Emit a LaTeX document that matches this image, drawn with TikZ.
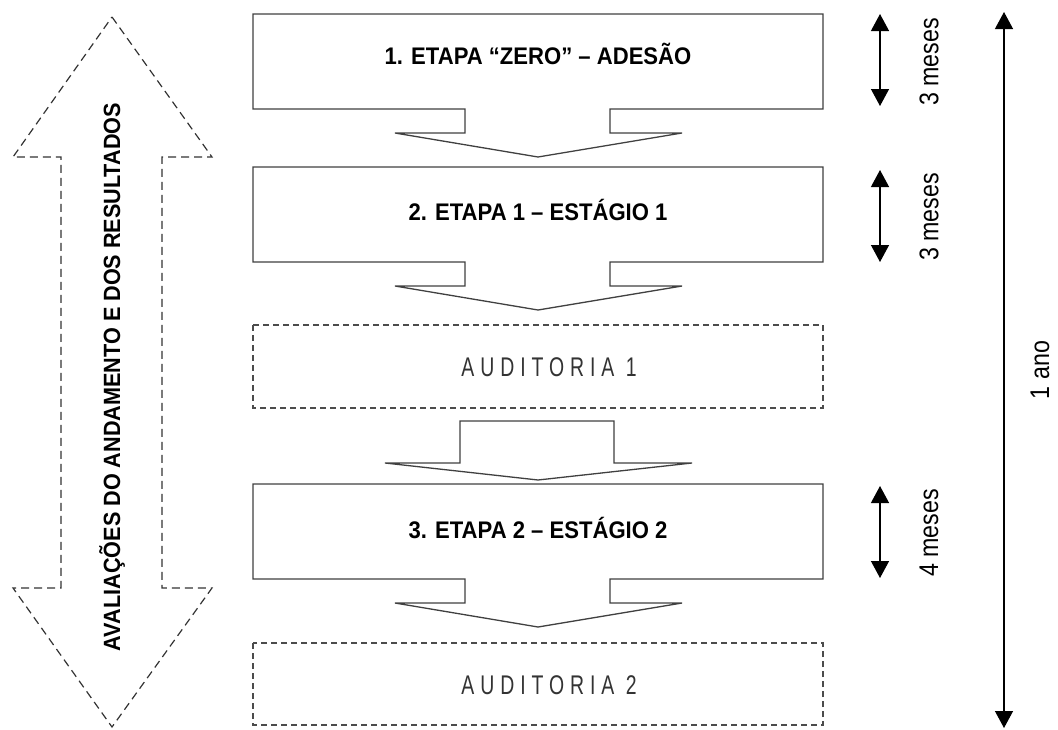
\documentclass[tikz,border=0pt]{standalone}
\usepackage{fontspec}
\setmainfont{Liberation Sans}
\newfontfamily\titlefont[FakeStretch=0.92]{Liberation Sans}
\newfontfamily\notefont[FakeStretch=0.86]{Liberation Sans}
\newfontfamily\auditfont[FakeStretch=0.72,LetterSpace=22]{Liberation Sans}
\usetikzlibrary{arrows.meta}

% outline of a stage box with its downward block arrow (top edge at #1)
\newcommand\stageoutline[1]{%
  \draw[stageline] (253,#1) -- (823,#1) -- (823,#1+95) -- (610,#1+95)
    -- (610,#1+119) -- (682,#1+119) -- (538,#1+143) -- (395,#1+119)
    -- (465,#1+119) -- (465,#1+95) -- (253,#1+95) -- cycle;}

\begin{document}
\begin{tikzpicture}[x=1pt,y=-1pt,
  stageline/.style={draw=black!75, line width=1.3pt, fill=white, line join=miter},
  auditbox/.style={draw=black!70, line width=1.2pt, dash pattern=on 6pt off 4pt},
  sidearrow/.style={draw=black!80, line width=1.2pt, dash pattern=on 8pt off 5pt},
  span/.style={line width=1.3pt,
    {Triangle[width=18pt,length=17pt]}-{Triangle[width=18pt,length=17pt]}},
  stagetext/.style={font=\titlefont\bfseries\fontsize{24}{27}\selectfont},
  audittext/.style={font=\auditfont\fontsize{27}{31}\selectfont, text=black!80},
  sidetext/.style={font=\titlefont\bfseries\fontsize{23.5}{27}\selectfont, rotate=90},
  durtext/.style={font=\notefont\fontsize{27}{30}\selectfont, rotate=90}]
\useasboundingbox (0,0) rectangle (1058,729);

% evaluation double arrow on the left
\draw[sidearrow] (112,17) -- (212,157) -- (162,157) -- (162,588) -- (212,588)
  -- (112,727) -- (13,588) -- (61,588) -- (61,157) -- (13,157) -- cycle;
\node[sidetext] (eval) at (112,377) {AVALIAÇÕES DO ANDAMENTO E DOS RESULTADOS};

% stages
\stageoutline{14}
\node[stagetext] (s1) at (538,54) {1. ETAPA “ZERO” – ADESÃO};
\stageoutline{167}
\node[stagetext] (s2) at (538,210) {2. ETAPA 1 – ESTÁGIO 1};

\draw[auditbox] (253,325) rectangle (823,408);
\node[audittext] (a1) at (549,367) {AUDITORIA 1};

\draw[stageline] (460,421) -- (614,421) -- (614,463) -- (692,463) -- (538,480)
  -- (385,463) -- (460,463) -- cycle;

\stageoutline{484}
\node[stagetext] (s3) at (538,528) {3. ETAPA 2 – ESTÁGIO 2};

\draw[auditbox] (253,643) rectangle (823,725);
\node[audittext] (a2) at (549,685) {AUDITORIA 2};

% durations
\coordinate (d1a) at (880,14);  \coordinate (d1b) at (880,106);
\coordinate (d2a) at (880,170); \coordinate (d2b) at (880,262);
\coordinate (d3a) at (880,486); \coordinate (d3b) at (880,578);
\coordinate (ya) at (1004,12);  \coordinate (yb) at (1004,728);
\draw[span] (d1a) -- (d1b);
\draw[span] (d2a) -- (d2b);
\draw[span] (d3a) -- (d3b);
\draw[span] (ya) -- (yb);
\node[durtext] (m1) at (929,62) {3 meses};
\node[durtext] (m2) at (929,217) {3 meses};
\node[durtext] (m3) at (929,533) {4 meses};
\node[durtext] (yr) at (1040,370) {1 ano};
\end{tikzpicture}
\end{document}
